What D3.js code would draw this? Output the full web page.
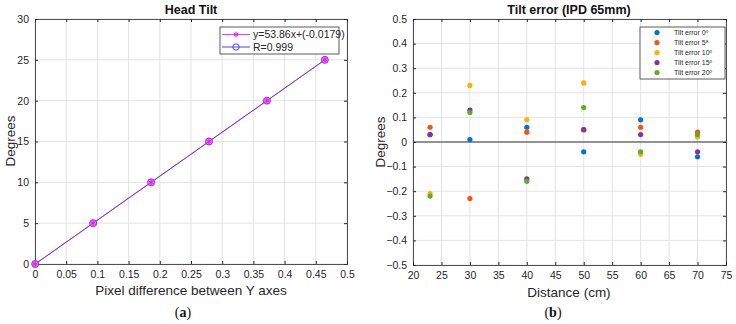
<!DOCTYPE html>
<html><head><meta charset="utf-8">
<script src="https://cdn.jsdelivr.net/npm/d3@7"></script>
<style>body{margin:0;background:#fff}svg{display:block}text{font-family:"Liberation Sans",Arial,sans-serif}</style>
</head><body><svg id="c" width="736" height="324"></svg>
<script>
// Left chart data
const tiltDegrees = [0, 5, 10, 15, 20, 25];
const pixelDiff = [0.0003, 0.0932, 0.1860, 0.2788, 0.3717, 0.4645];
const leftXTicks = [0,0.05,0.1,0.15,0.2,0.25,0.3,0.35,0.4,0.45,0.5];
const leftYTicks = [0,5,10,15,20,25,30];
const leftLegend = ["y=53.86x+(-0.0179)", "R=0.999"];
// Right chart data
const distances = [23, 30, 40, 50, 60, 70];
const err0  = [0.03, 0.01, 0.06, -0.04, 0.09, -0.06];
const err5  = [0.06, -0.23, 0.04, 0.05, 0.06, 0.04];
const err10 = [-0.21, 0.23, 0.09, 0.24, -0.05, 0.02];
const err15 = [0.03, 0.13, -0.15, 0.05, 0.03, -0.04];
const err20 = [-0.22, 0.12, -0.16, 0.14, -0.04, 0.03];
const seriesNames = ["Tilt error 0º", "Tilt error 5ª", "Tilt error 10º", "Tilt error 15º", "Tilt error 20º"];
const rightXTicks = [20,25,30,35,40,45,50,55,60,65,70,75];
const rightYTicks = [-0.5,-0.4,-0.3,-0.2,-0.1,0,0.1,0.2,0.3,0.4,0.5];

const svg = d3.select("#c");
const axisCol = "#262626", gridCol = "#e3e3e3";

function frame(x, y, xt, yt, fmtX, fmtY) {
  const g = svg.append("g");
  const [x0, x1] = x.range(), [y0, y1] = y.range();
  xt.forEach(t => g.append("line").attr("x1", x(t)).attr("x2", x(t)).attr("y1", y0).attr("y2", y1).attr("stroke", gridCol).attr("stroke-width", 1));
  yt.forEach(t => g.append("line").attr("x1", x0).attr("x2", x1).attr("y1", y(t)).attr("y2", y(t)).attr("stroke", gridCol).attr("stroke-width", 1));
  const ax = g.append("g").attr("transform", `translate(0,${y0})`).call(d3.axisBottom(x).tickValues(xt).tickSize(-3).tickPadding(7).tickFormat(fmtX));
  const ay = g.append("g").attr("transform", `translate(${x0},0)`).call(d3.axisLeft(y).tickValues(yt).tickSize(-3).tickPadding(6).tickFormat(fmtY));
  const at = g.append("g").attr("transform", `translate(0,${y1})`).call(d3.axisTop(x).tickValues(xt).tickSize(-3).tickFormat(""));
  const ar = g.append("g").attr("transform", `translate(${x1},0)`).call(d3.axisRight(y).tickValues(yt).tickSize(-3).tickFormat(""));
  [ax, ay, at, ar].forEach(a => {
    a.selectAll("path,line").attr("stroke", axisCol);
    a.selectAll("text").attr("fill", axisCol).style("font-size", "10.5px").style("font-family", "Liberation Sans, Arial, sans-serif");
    a.select(".domain").attr("stroke-width", 0.8);
  });
  return g;
}

// ---------- Left chart ----------
const xL = d3.scaleLinear().domain([0, 0.5]).range([35, 347]);
const yL = d3.scaleLinear().domain([0, 30]).range([264, 19]);
frame(xL, yL, leftXTicks, leftYTicks, d => d === 0 ? "0" : String(d), d => String(d));
const line = d3.line().x((d, i) => xL(pixelDiff[i])).y(d => yL(d));
svg.append("path").datum(tiltDegrees).attr("d", line).attr("fill", "none").attr("stroke", "#ff33ff").attr("stroke-width", 1);
svg.append("path").datum(tiltDegrees).attr("d", line).attr("fill", "none").attr("stroke", "#5a40f5").attr("stroke-width", 1).attr("opacity", 0.95);
tiltDegrees.forEach((d, i) => {
  const cx = xL(pixelDiff[i]), cy = yL(d);
  svg.append("circle").attr("cx", cx).attr("cy", cy).attr("r", 3.5).attr("fill", "#e08cf0").attr("stroke", "#8a2be2").attr("stroke-width", 1);
  svg.append("path").attr("d", d3.symbol(d3.symbolAsterisk, 20)()).attr("transform", `translate(${cx},${cy})`).attr("stroke", "#ff00ff").attr("stroke-width", 1).attr("fill", "none");
});
// left legend
const lgL = svg.append("g");
lgL.append("rect").attr("x", 220).attr("y", 27).attr("width", 119).attr("height", 27).attr("fill", "#fff").attr("stroke", "#333").attr("stroke-width", 0.8);
[["#ff33ff", "ast"], ["#5a40f5", "circ"]].forEach(([c, m], i) => {
  const yy = 34.5 + i * 12.5;
  lgL.append("line").attr("x1", 222).attr("x2", 250).attr("y1", yy).attr("y2", yy).attr("stroke", c).attr("stroke-width", 1);
  if (m === "ast") lgL.append("path").attr("d", d3.symbol(d3.symbolAsterisk, 20)()).attr("transform", `translate(236,${yy})`).attr("stroke", "#ff00ff").attr("fill", "none");
  else lgL.append("circle").attr("cx", 236).attr("cy", yy).attr("r", 3.2).attr("fill", "none").attr("stroke", "#4a3cff");
  lgL.append("text").attr("x", 253).attr("y", yy + 3.8).text(leftLegend[i]).style("font-size", "10.5px").attr("fill", axisCol);
});
svg.append("text").attr("x", 191).attr("y", 14).attr("text-anchor", "middle").style("font-size", "12.5px").style("font-weight", "bold").attr("fill", "#111").text("Head Tilt");
svg.append("text").attr("x", 191).attr("y", 295).attr("text-anchor", "middle").style("font-size", "13.5px").attr("fill", axisCol).text("Pixel difference between Y axes");
svg.append("text").attr("transform", "translate(15,141) rotate(-90)").attr("text-anchor", "middle").style("font-size", "13.5px").attr("fill", axisCol).text("Degrees");
const la = svg.append("text").attr("x", 183).attr("y", 317).attr("text-anchor", "middle").style("font-family", "Liberation Serif, Times New Roman, serif").style("font-size", "14px").attr("fill", "#111");
la.append("tspan").text("(");
la.append("tspan").style("font-weight", "bold").text("a");
la.append("tspan").text(")");

// ---------- Right chart ----------
const xR = d3.scaleLinear().domain([20, 75]).range([413, 726]);
const yR = d3.scaleLinear().domain([-0.5, 0.5]).range([265, 19]);
frame(xR, yR, rightXTicks, rightYTicks, d => String(d), d => d === 0 ? "0" : d3.format(".1f")(d));
svg.append("line").attr("x1", xR(20)).attr("x2", xR(75)).attr("y1", yR(0)).attr("y2", yR(0)).attr("stroke", "#333").attr("stroke-width", 1);
const colors = ["#0072d6", "#ff5010", "#ffb000", "#8a2f9e", "#5aae28"];
const series = [err0, err5, err10, err15, err20];
series.forEach((s, k) => {
  svg.append("g").selectAll("circle").data(s).join("circle")
    .attr("cx", (d, i) => xR(distances[i])).attr("cy", d => yR(d)).attr("r", 2.6).attr("fill", colors[k]);
});
const lgR = svg.append("g");
lgR.append("rect").attr("x", 640).attr("y", 27).attr("width", 85).attr("height", 52).attr("fill", "#fff").attr("stroke", "#333").attr("stroke-width", 0.8);
seriesNames.forEach((n, k) => {
  const yy = 32.5 + k * 10;
  lgR.append("circle").attr("cx", 657).attr("cy", yy).attr("r", 2.6).attr("fill", colors[k]);
  lgR.append("text").attr("x", 674).attr("y", yy + 2.5).text(n).style("font-size", "7px").attr("fill", axisCol);
});
svg.append("text").attr("x", 569).attr("y", 14).attr("text-anchor", "middle").style("font-size", "12.5px").style("font-weight", "bold").attr("fill", "#111").text("Tilt error (IPD 65mm)");
svg.append("text").attr("x", 569).attr("y", 297).attr("text-anchor", "middle").style("font-size", "13.5px").attr("fill", axisCol).text("Distance (cm)");
svg.append("text").attr("transform", "translate(385,142) rotate(-90)").attr("text-anchor", "middle").style("font-size", "13.5px").attr("fill", axisCol).text("Degrees");
const lb = svg.append("text").attr("x", 553).attr("y", 317).attr("text-anchor", "middle").style("font-family", "Liberation Serif, Times New Roman, serif").style("font-size", "14px").attr("fill", "#111");
lb.append("tspan").text("(");
lb.append("tspan").style("font-weight", "bold").text("b");
lb.append("tspan").text(")");
</script></body></html>
